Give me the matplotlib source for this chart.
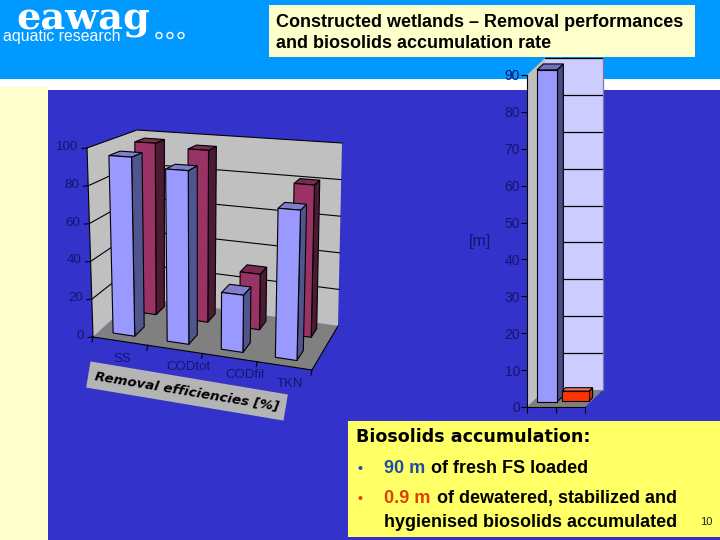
import matplotlib
matplotlib.use("Agg")
import matplotlib.pyplot as plt
from matplotlib.patches import Polygon, Rectangle

plt.rcParams['font.family'] = ['Liberation Sans', 'DejaVu Sans']

categories = ['SS', 'CODtot', 'CODfil', 'TKN']
front_values = [95, 90, 29, 74.5]
back_values = [97, 95, 30, 80.5]
left_ticks = [0, 20, 40, 60, 80, 100]
right_ticks = [0, 10, 20, 30, 40, 50, 60, 70, 80, 90]
right_values = [90, 2.7]

NAVY = '#14146e'
fig = plt.figure(figsize=(7.2, 5.4), dpi=100, facecolor='white')
bg = fig.add_axes([0, 0, 1, 1])
bg.set_xlim(0, 720)
bg.set_ylim(540, 0)
bg.axis('off')

bg.add_patch(Rectangle((0, 0), 720, 79, fc='#0099ff', ec='none'))
bg.add_patch(Rectangle((0, 87), 48, 453, fc='#ffffcc', ec='none'))
bg.add_patch(Rectangle((48, 90), 672, 450, fc='#3333cc', ec='none'))
bg.add_patch(Rectangle((269, 5), 426, 52, fc='#ffffcc', ec='none', zorder=5))
bg.add_patch(Rectangle((348, 421), 372, 116, fc='#ffff66', ec='none', zorder=5))

# logo
bg.text(16, 29, 'eawag', family='DejaVu Serif', weight='bold', fontsize=27.5, color='white', va='baseline', zorder=6)
bg.text(3, 41, 'aquatic research', fontsize=11.4, color='white', va='baseline', zorder=6)
for cx in (159, 170, 181):
    bg.add_patch(plt.Circle((cx, 35.5), 3.0, fc='none', ec='white', lw=1, zorder=6))

# title
bg.text(276, 27, 'Constructed wetlands – Removal performances', weight='bold', fontsize=13, color='black', zorder=6)
bg.text(276, 48, 'and biosolids accumulation rate', weight='bold', fontsize=13, color='black', zorder=6)

# text panel
bg.text(356, 442, 'Biosolids accumulation:', family='DejaVu Sans', weight='bold', fontsize=12.6, color='black', zorder=6)
bg.text(358, 473, '•', fontsize=10, color='#1f4fa0', weight='bold', zorder=6)
bg.text(384, 473, '90 m', fontsize=13, color='#1f4fa0', weight='bold', zorder=6)
bg.text(431, 473, 'of fresh FS loaded', fontsize=13, color='black', weight='bold', zorder=6)
bg.text(358, 503, '•', fontsize=10, color='#e04000', weight='bold', zorder=6)
bg.text(384, 503, '0.9 m', fontsize=13, color='#e04000', weight='bold', zorder=6)
bg.text(437, 503, 'of dewatered, stabilized and', fontsize=13, color='black', weight='bold', zorder=6)
bg.text(384, 527, 'hygienised biosolids accumulated', fontsize=13, color='black', weight='bold', zorder=6)
bg.text(700, 525, '10', fontsize=8, color='#222222', zorder=6)
bg.text(469, 246, '[m]', fontsize=11.5, color=NAVY, zorder=6)

# ---- left chart: perspective box
FLB, FLT = (93, 337), (87, 148)
FRB, FRT = (312, 370), (318, 163)
BLB, BLT = (137, 297), (137, 130)
BRB, BRT = (338, 326), (342, 143)


def lerp(a, b, t):
    return (a[0] + (b[0] - a[0]) * t, a[1] + (b[1] - a[1]) * t)


def proj(u, d, value):
    z = value / 100.0
    fl = lerp(FLB, FLT, z)
    fr = lerp(FRB, FRT, z)
    bl = lerp(BLB, BLT, z)
    br = lerp(BRB, BRT, z)
    return lerp(lerp(fl, fr, u), lerp(bl, br, u), d)


def poly(ax_, pts, fc, ec='none', lw=0.8, z=2):
    ax_.add_patch(Polygon(pts, closed=True, fc=fc, ec=ec, lw=lw, zorder=z))


poly(bg, [proj(0, 0, 0), proj(1, 0, 0), proj(1, 1, 0), proj(0, 1, 0)], '#808080')
poly(bg, [proj(0, 1, 0), proj(1, 1, 0), proj(1, 1, 100), proj(0, 1, 100)], '#c0c0c0')
poly(bg, [proj(0, 0, 0), proj(0, 1, 0), proj(0, 1, 100), proj(0, 0, 100)], '#c0c0c0')

for v in left_ticks:
    a, b, c = proj(0, 0, v), proj(0, 1, v), proj(1, 1, v)
    if v > 0:
        bg.plot([a[0], b[0], c[0]], [a[1], b[1], c[1]], color='black', lw=0.8, zorder=2.5)
    bg.plot([a[0] - 5, a[0]], [a[1] + 0.5, a[1]], color='black', lw=0.8, zorder=2.5)
    bg.text(a[0] - 9, a[1] - 1, str(v), ha='right', va='center', fontsize=9.6, color=NAVY, zorder=6)

e = proj(0, 0, 0)
f = proj(1, 0, 0)
g = proj(1, 1, 0)
bg.plot([proj(0, 0, 100)[0], e[0], f[0], g[0]], [proj(0, 0, 100)[1], e[1], f[1], g[1]], color='black', lw=0.8, zorder=2.5)
for i in range(len(categories) + 1):
    p = proj(i / len(categories), 0, 0)
    bg.plot([p[0], p[0] - 1], [p[1], p[1] + 5], color='black', lw=0.8, zorder=2.5)


def bar3(u0, u1, d0, d1, value, front, side, top, z):
    poly(bg, [proj(u1, d0, 0), proj(u1, d1, 0), proj(u1, d1, value), proj(u1, d0, value)], side, 'black', z=z)
    poly(bg, [proj(u0, d0, value), proj(u1, d0, value), proj(u1, d1, value), proj(u0, d1, value)], top, 'black', z=z)
    poly(bg, [proj(u0, d0, 0), proj(u1, d0, 0), proj(u1, d0, value), proj(u0, d0, value)], front, 'black', z=z)


n = len(categories)
for i, v in enumerate(back_values):
    c = (i + 0.45) / n
    bar3(c - 0.048, c + 0.048, 0.68, 0.88, v, '#993366', '#4d1a33', '#7a2950', 3)
for i, v in enumerate(front_values):
    c = (i + 0.45) / n
    bar3(c - 0.05, c + 0.05, 0.15, 0.38, v, '#9999ff', '#50558f', '#7f7fcc', 4)

for lab, x, y in zip(categories, (122, 188, 245, 290), (359, 367, 375, 384)):
    bg.text(x, y, lab, ha='center', va='center', fontsize=9.5, color=NAVY, zorder=6)

bg.text(187, 391, 'Removal efficiencies [%]', rotation=-9.5, rotation_mode='anchor', ha='center', va='center',
        fontsize=9.7, style='italic', weight='bold', color='black', family='DejaVu Sans', zorder=6,
        bbox=dict(boxstyle='square,pad=0.5', fc='#b4b4b4', ec='none'))

# ---- right chart: real axes, oblique depth
ax = fig.add_axes([527 / 720, 1 - 407 / 540, 58 / 720, 332 / 540], facecolor='none', zorder=3)
ax.set_xlim(0, 2)
ax.set_ylim(0, 90)
DX, DZ = 18 / 29, 17 / (332 / 90)


def ob(x, z, d):
    return (x + d * DX, z + d * DZ)


def p2(pts, fc, ec='none', lw=0.8, z=2):
    ax.add_patch(Polygon(pts, closed=True, fc=fc, ec=ec, lw=lw, zorder=z, clip_on=False))


top_v = 90
p2([ob(0, 0, 0), ob(2, 0, 0), ob(2, 0, 1), ob(0, 0, 1)], '#808080')
p2([ob(0, 0, 0), ob(0, 0, 1), ob(0, top_v, 1), ob(0, top_v, 0)], '#c0c0c0')
p2([ob(0, 0, 1), ob(2, 0, 1), ob(2, top_v, 1), ob(0, top_v, 1)], '#ccccff')
for v in right_ticks[1:]:
    a, b = ob(0, v, 1), ob(2, v, 1)
    ax.plot([a[0], b[0]], [a[1], b[1]], color='black', lw=0.9, zorder=2.5, clip_on=False)
a, b = ob(2, 0, 1), ob(2, top_v, 1)
ax.plot([a[0], b[0]], [a[1], b[1]], color='#7a7aa8', lw=0.9, zorder=2.5, clip_on=False)


def bar2(x0, x1, d0, d1, value, front, side, top, z):
    p2([ob(x1, 0, d0), ob(x1, 0, d1), ob(x1, value, d1), ob(x1, value, d0)], side, 'black', z=z)
    p2([ob(x0, value, d0), ob(x1, value, d0), ob(x1, value, d1), ob(x0, value, d1)], top, 'black', z=z)
    p2([ob(x0, 0, d0), ob(x1, 0, d0), ob(x1, value, d0), ob(x0, value, d0)], front, 'black', z=z)


bar2(0.16, 0.85, 0.3, 0.65, right_values[0], '#9999ff', '#4a4a85', '#7070c0', 3)
bar2(0.99, 1.92, 0.35, 0.55, right_values[1], '#ff3300', '#c03010', '#ff7050', 3)

ax.set_yticks(right_ticks)
ax.set_xticks([0, 1, 2])
ax.set_xticklabels([])
ax.tick_params(axis='y', length=4, width=0.8, color='black', labelcolor=NAVY, labelsize=10, pad=1)
ax.tick_params(axis='x', length=4, width=0.8, color='black')
for s in ('top', 'right'):
    ax.spines[s].set_visible(False)
for s in ('left', 'bottom'):
    ax.spines[s].set_linewidth(0.8)
    ax.spines[s].set_zorder(4)

fig.savefig('out.png', dpi=100)
